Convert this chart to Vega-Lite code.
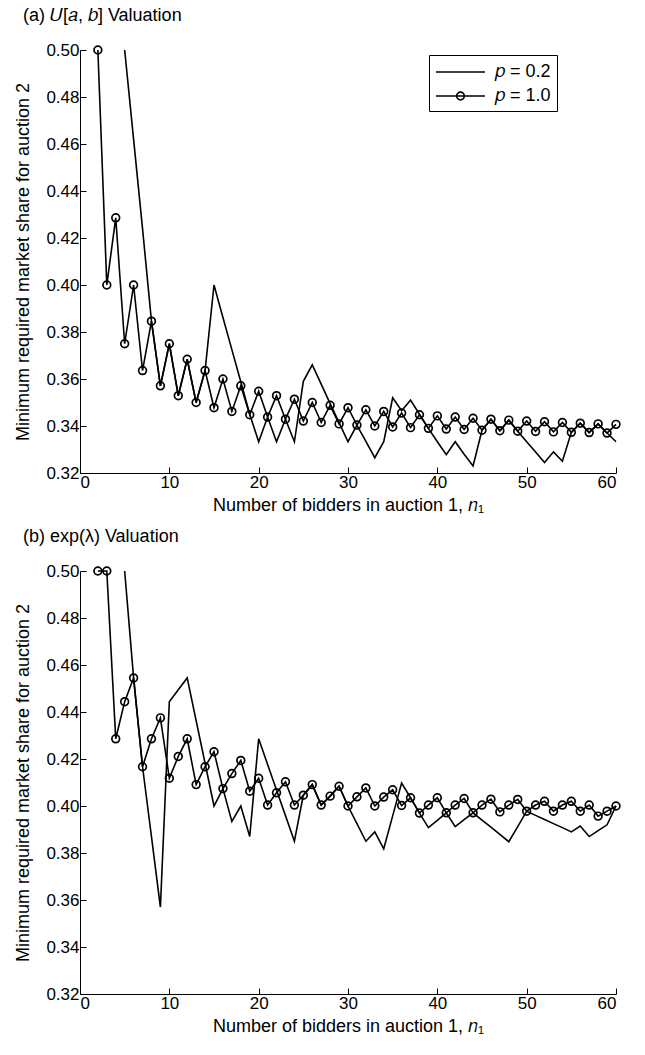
{
  "$schema": "https://vega.github.io/schema/vega-lite/v6.json",
  "background": "white",
  "padding": {"left": 14, "top": 7, "right": 4, "bottom": 3},
  "spacing": 14,
  "config": {
    "font": "Liberation Sans",
    "view": {"stroke": null},
    "axis": {
      "grid": false,
      "domainColor": "black",
      "domainWidth": 1,
      "tickColor": "black",
      "tickWidth": 1,
      "tickSize": -6,
      "labelColor": "black",
      "labelFontSize": 17,
      "labelPadding": 7,
      "titleColor": "black",
      "titleFontSize": 18,
      "titleFontWeight": "normal"
    },
    "title": {"fontSize": 18, "fontWeight": "normal", "color": "black", "anchor": "start", "frame": "bounds", "dx": 8}
  },
  "resolve": {"scale": {"shape": "independent"}, "legend": {"shape": "independent"}},
  "datasets": {
    "a": [
      {"n": 2, "series": "p = 1.0", "share": 0.5},
      {"n": 3, "series": "p = 1.0", "share": 0.4},
      {"n": 4, "series": "p = 1.0", "share": 0.4286},
      {"n": 5, "series": "p = 1.0", "share": 0.375},
      {"n": 6, "series": "p = 1.0", "share": 0.4},
      {"n": 7, "series": "p = 1.0", "share": 0.3636},
      {"n": 8, "series": "p = 1.0", "share": 0.3846},
      {"n": 9, "series": "p = 1.0", "share": 0.3571},
      {"n": 10, "series": "p = 1.0", "share": 0.375},
      {"n": 11, "series": "p = 1.0", "share": 0.3529},
      {"n": 12, "series": "p = 1.0", "share": 0.3684},
      {"n": 13, "series": "p = 1.0", "share": 0.35},
      {"n": 14, "series": "p = 1.0", "share": 0.3636},
      {"n": 15, "series": "p = 1.0", "share": 0.3478},
      {"n": 16, "series": "p = 1.0", "share": 0.36},
      {"n": 17, "series": "p = 1.0", "share": 0.3462},
      {"n": 18, "series": "p = 1.0", "share": 0.3571},
      {"n": 19, "series": "p = 1.0", "share": 0.3448},
      {"n": 20, "series": "p = 1.0", "share": 0.3548},
      {"n": 21, "series": "p = 1.0", "share": 0.3438},
      {"n": 22, "series": "p = 1.0", "share": 0.3529},
      {"n": 23, "series": "p = 1.0", "share": 0.3429},
      {"n": 24, "series": "p = 1.0", "share": 0.3514},
      {"n": 25, "series": "p = 1.0", "share": 0.3421},
      {"n": 26, "series": "p = 1.0", "share": 0.35},
      {"n": 27, "series": "p = 1.0", "share": 0.3415},
      {"n": 28, "series": "p = 1.0", "share": 0.3488},
      {"n": 29, "series": "p = 1.0", "share": 0.3409},
      {"n": 30, "series": "p = 1.0", "share": 0.3478},
      {"n": 31, "series": "p = 1.0", "share": 0.3404},
      {"n": 32, "series": "p = 1.0", "share": 0.3469},
      {"n": 33, "series": "p = 1.0", "share": 0.34},
      {"n": 34, "series": "p = 1.0", "share": 0.3462},
      {"n": 35, "series": "p = 1.0", "share": 0.3396},
      {"n": 36, "series": "p = 1.0", "share": 0.3455},
      {"n": 37, "series": "p = 1.0", "share": 0.3393},
      {"n": 38, "series": "p = 1.0", "share": 0.3448},
      {"n": 39, "series": "p = 1.0", "share": 0.339},
      {"n": 40, "series": "p = 1.0", "share": 0.3443},
      {"n": 41, "series": "p = 1.0", "share": 0.3387},
      {"n": 42, "series": "p = 1.0", "share": 0.3438},
      {"n": 43, "series": "p = 1.0", "share": 0.3385},
      {"n": 44, "series": "p = 1.0", "share": 0.3433},
      {"n": 45, "series": "p = 1.0", "share": 0.3382},
      {"n": 46, "series": "p = 1.0", "share": 0.3429},
      {"n": 47, "series": "p = 1.0", "share": 0.338},
      {"n": 48, "series": "p = 1.0", "share": 0.3425},
      {"n": 49, "series": "p = 1.0", "share": 0.3378},
      {"n": 50, "series": "p = 1.0", "share": 0.3421},
      {"n": 51, "series": "p = 1.0", "share": 0.3377},
      {"n": 52, "series": "p = 1.0", "share": 0.3418},
      {"n": 53, "series": "p = 1.0", "share": 0.3375},
      {"n": 54, "series": "p = 1.0", "share": 0.3415},
      {"n": 55, "series": "p = 1.0", "share": 0.3373},
      {"n": 56, "series": "p = 1.0", "share": 0.3412},
      {"n": 57, "series": "p = 1.0", "share": 0.3372},
      {"n": 58, "series": "p = 1.0", "share": 0.3409},
      {"n": 59, "series": "p = 1.0", "share": 0.337},
      {"n": 60, "series": "p = 1.0", "share": 0.3407},
      {"n": 5, "series": "p = 0.2", "share": 0.5},
      {"n": 6, "series": "p = 0.2", "share": 0.462},
      {"n": 7, "series": "p = 0.2", "share": 0.424},
      {"n": 8, "series": "p = 0.2", "share": 0.3846},
      {"n": 9, "series": "p = 0.2", "share": 0.3571},
      {"n": 10, "series": "p = 0.2", "share": 0.375},
      {"n": 11, "series": "p = 0.2", "share": 0.3529},
      {"n": 12, "series": "p = 0.2", "share": 0.3684},
      {"n": 13, "series": "p = 0.2", "share": 0.35},
      {"n": 14, "series": "p = 0.2", "share": 0.3636},
      {"n": 15, "series": "p = 0.2", "share": 0.4},
      {"n": 16, "series": "p = 0.2", "share": 0.3862},
      {"n": 17, "series": "p = 0.2", "share": 0.3725},
      {"n": 18, "series": "p = 0.2", "share": 0.3588},
      {"n": 19, "series": "p = 0.2", "share": 0.345},
      {"n": 20, "series": "p = 0.2", "share": 0.3333},
      {"n": 21, "series": "p = 0.2", "share": 0.3438},
      {"n": 22, "series": "p = 0.2", "share": 0.3333},
      {"n": 23, "series": "p = 0.2", "share": 0.3429},
      {"n": 24, "series": "p = 0.2", "share": 0.3333},
      {"n": 25, "series": "p = 0.2", "share": 0.359},
      {"n": 26, "series": "p = 0.2", "share": 0.366},
      {"n": 27, "series": "p = 0.2", "share": 0.3578},
      {"n": 28, "series": "p = 0.2", "share": 0.3495},
      {"n": 29, "series": "p = 0.2", "share": 0.3414},
      {"n": 30, "series": "p = 0.2", "share": 0.3333},
      {"n": 31, "series": "p = 0.2", "share": 0.3404},
      {"n": 32, "series": "p = 0.2", "share": 0.3335},
      {"n": 33, "series": "p = 0.2", "share": 0.3265},
      {"n": 34, "series": "p = 0.2", "share": 0.3333},
      {"n": 35, "series": "p = 0.2", "share": 0.352},
      {"n": 36, "series": "p = 0.2", "share": 0.3465},
      {"n": 37, "series": "p = 0.2", "share": 0.351},
      {"n": 38, "series": "p = 0.2", "share": 0.345},
      {"n": 39, "series": "p = 0.2", "share": 0.339},
      {"n": 40, "series": "p = 0.2", "share": 0.3333},
      {"n": 41, "series": "p = 0.2", "share": 0.3278},
      {"n": 42, "series": "p = 0.2", "share": 0.3333},
      {"n": 43, "series": "p = 0.2", "share": 0.328},
      {"n": 44, "series": "p = 0.2", "share": 0.323},
      {"n": 45, "series": "p = 0.2", "share": 0.3382},
      {"n": 46, "series": "p = 0.2", "share": 0.3429},
      {"n": 47, "series": "p = 0.2", "share": 0.338},
      {"n": 48, "series": "p = 0.2", "share": 0.3425},
      {"n": 49, "series": "p = 0.2", "share": 0.3378},
      {"n": 50, "series": "p = 0.2", "share": 0.3333},
      {"n": 51, "series": "p = 0.2", "share": 0.3289},
      {"n": 52, "series": "p = 0.2", "share": 0.3245},
      {"n": 53, "series": "p = 0.2", "share": 0.329},
      {"n": 54, "series": "p = 0.2", "share": 0.325},
      {"n": 55, "series": "p = 0.2", "share": 0.3373},
      {"n": 56, "series": "p = 0.2", "share": 0.3412},
      {"n": 57, "series": "p = 0.2", "share": 0.3372},
      {"n": 58, "series": "p = 0.2", "share": 0.3409},
      {"n": 59, "series": "p = 0.2", "share": 0.337},
      {"n": 60, "series": "p = 0.2", "share": 0.3333}
    ],
    "b": [
      {"n": 2, "series": "p = 1.0", "share": 0.5},
      {"n": 3, "series": "p = 1.0", "share": 0.5},
      {"n": 4, "series": "p = 1.0", "share": 0.4286},
      {"n": 5, "series": "p = 1.0", "share": 0.4444},
      {"n": 6, "series": "p = 1.0", "share": 0.4545},
      {"n": 7, "series": "p = 1.0", "share": 0.4167},
      {"n": 8, "series": "p = 1.0", "share": 0.4286},
      {"n": 9, "series": "p = 1.0", "share": 0.4375},
      {"n": 10, "series": "p = 1.0", "share": 0.4118},
      {"n": 11, "series": "p = 1.0", "share": 0.4211},
      {"n": 12, "series": "p = 1.0", "share": 0.4286},
      {"n": 13, "series": "p = 1.0", "share": 0.4091},
      {"n": 14, "series": "p = 1.0", "share": 0.4167},
      {"n": 15, "series": "p = 1.0", "share": 0.4231},
      {"n": 16, "series": "p = 1.0", "share": 0.4074},
      {"n": 17, "series": "p = 1.0", "share": 0.4138},
      {"n": 18, "series": "p = 1.0", "share": 0.4194},
      {"n": 19, "series": "p = 1.0", "share": 0.4063},
      {"n": 20, "series": "p = 1.0", "share": 0.4118},
      {"n": 21, "series": "p = 1.0", "share": 0.4004},
      {"n": 22, "series": "p = 1.0", "share": 0.4056},
      {"n": 23, "series": "p = 1.0", "share": 0.4103},
      {"n": 24, "series": "p = 1.0", "share": 0.4004},
      {"n": 25, "series": "p = 1.0", "share": 0.4046},
      {"n": 26, "series": "p = 1.0", "share": 0.4091},
      {"n": 27, "series": "p = 1.0", "share": 0.4004},
      {"n": 28, "series": "p = 1.0", "share": 0.4042},
      {"n": 29, "series": "p = 1.0", "share": 0.4084},
      {"n": 30, "series": "p = 1.0", "share": 0.4},
      {"n": 31, "series": "p = 1.0", "share": 0.4039},
      {"n": 32, "series": "p = 1.0", "share": 0.4077},
      {"n": 33, "series": "p = 1.0", "share": 0.4},
      {"n": 34, "series": "p = 1.0", "share": 0.4038},
      {"n": 35, "series": "p = 1.0", "share": 0.4069},
      {"n": 36, "series": "p = 1.0", "share": 0.4002},
      {"n": 37, "series": "p = 1.0", "share": 0.4035},
      {"n": 38, "series": "p = 1.0", "share": 0.397},
      {"n": 39, "series": "p = 1.0", "share": 0.4004},
      {"n": 40, "series": "p = 1.0", "share": 0.4035},
      {"n": 41, "series": "p = 1.0", "share": 0.3971},
      {"n": 42, "series": "p = 1.0", "share": 0.4004},
      {"n": 43, "series": "p = 1.0", "share": 0.4032},
      {"n": 44, "series": "p = 1.0", "share": 0.3971},
      {"n": 45, "series": "p = 1.0", "share": 0.4004},
      {"n": 46, "series": "p = 1.0", "share": 0.4029},
      {"n": 47, "series": "p = 1.0", "share": 0.3975},
      {"n": 48, "series": "p = 1.0", "share": 0.4004},
      {"n": 49, "series": "p = 1.0", "share": 0.4028},
      {"n": 50, "series": "p = 1.0", "share": 0.3978},
      {"n": 51, "series": "p = 1.0", "share": 0.4004},
      {"n": 52, "series": "p = 1.0", "share": 0.402},
      {"n": 53, "series": "p = 1.0", "share": 0.3978},
      {"n": 54, "series": "p = 1.0", "share": 0.4004},
      {"n": 55, "series": "p = 1.0", "share": 0.402},
      {"n": 56, "series": "p = 1.0", "share": 0.3978},
      {"n": 57, "series": "p = 1.0", "share": 0.4004},
      {"n": 58, "series": "p = 1.0", "share": 0.3957},
      {"n": 59, "series": "p = 1.0", "share": 0.3978},
      {"n": 60, "series": "p = 1.0", "share": 0.4},
      {"n": 5, "series": "p = 0.2", "share": 0.5},
      {"n": 6, "series": "p = 0.2", "share": 0.4545},
      {"n": 7, "series": "p = 0.2", "share": 0.4167},
      {"n": 8, "series": "p = 0.2", "share": 0.387},
      {"n": 9, "series": "p = 0.2", "share": 0.357},
      {"n": 10, "series": "p = 0.2", "share": 0.4444},
      {"n": 11, "series": "p = 0.2", "share": 0.4495},
      {"n": 12, "series": "p = 0.2", "share": 0.4545},
      {"n": 13, "series": "p = 0.2", "share": 0.4363},
      {"n": 14, "series": "p = 0.2", "share": 0.4182},
      {"n": 15, "series": "p = 0.2", "share": 0.4},
      {"n": 16, "series": "p = 0.2", "share": 0.4074},
      {"n": 17, "series": "p = 0.2", "share": 0.3934},
      {"n": 18, "series": "p = 0.2", "share": 0.4},
      {"n": 19, "series": "p = 0.2", "share": 0.387},
      {"n": 20, "series": "p = 0.2", "share": 0.4286},
      {"n": 21, "series": "p = 0.2", "share": 0.4177},
      {"n": 22, "series": "p = 0.2", "share": 0.4068},
      {"n": 23, "series": "p = 0.2", "share": 0.3959},
      {"n": 24, "series": "p = 0.2", "share": 0.385},
      {"n": 25, "series": "p = 0.2", "share": 0.4046},
      {"n": 26, "series": "p = 0.2", "share": 0.4091},
      {"n": 27, "series": "p = 0.2", "share": 0.4004},
      {"n": 28, "series": "p = 0.2", "share": 0.4042},
      {"n": 29, "series": "p = 0.2", "share": 0.4084},
      {"n": 30, "series": "p = 0.2", "share": 0.4},
      {"n": 31, "series": "p = 0.2", "share": 0.3925},
      {"n": 32, "series": "p = 0.2", "share": 0.385},
      {"n": 33, "series": "p = 0.2", "share": 0.389},
      {"n": 34, "series": "p = 0.2", "share": 0.3818},
      {"n": 35, "series": "p = 0.2", "share": 0.3958},
      {"n": 36, "series": "p = 0.2", "share": 0.4098},
      {"n": 37, "series": "p = 0.2", "share": 0.4035},
      {"n": 38, "series": "p = 0.2", "share": 0.397},
      {"n": 39, "series": "p = 0.2", "share": 0.3908},
      {"n": 40, "series": "p = 0.2", "share": 0.3939},
      {"n": 41, "series": "p = 0.2", "share": 0.3971},
      {"n": 42, "series": "p = 0.2", "share": 0.3912},
      {"n": 43, "series": "p = 0.2", "share": 0.3942},
      {"n": 44, "series": "p = 0.2", "share": 0.3971},
      {"n": 45, "series": "p = 0.2", "share": 0.394},
      {"n": 46, "series": "p = 0.2", "share": 0.391},
      {"n": 47, "series": "p = 0.2", "share": 0.3879},
      {"n": 48, "series": "p = 0.2", "share": 0.3848},
      {"n": 49, "series": "p = 0.2", "share": 0.3912},
      {"n": 50, "series": "p = 0.2", "share": 0.3978},
      {"n": 51, "series": "p = 0.2", "share": 0.396},
      {"n": 52, "series": "p = 0.2", "share": 0.3943},
      {"n": 53, "series": "p = 0.2", "share": 0.3925},
      {"n": 54, "series": "p = 0.2", "share": 0.3908},
      {"n": 55, "series": "p = 0.2", "share": 0.389},
      {"n": 56, "series": "p = 0.2", "share": 0.3915},
      {"n": 57, "series": "p = 0.2", "share": 0.387},
      {"n": 58, "series": "p = 0.2", "share": 0.3895},
      {"n": 59, "series": "p = 0.2", "share": 0.392},
      {"n": 60, "series": "p = 0.2", "share": 0.4}
    ]
  },
  "vconcat": [
    {
      "title": {"text": "(a) 𝑈[𝑎, 𝑏] Valuation", "offset": 16},
      "width": 536,
      "height": 423,
      "data": {"name": "a"},
      "encoding": {
        "x": {"field": "n", "type": "quantitative", "scale": {"domain": [0, 60], "nice": false}, "axis": {"values": [0, 10, 20, 30, 40, 50, 60], "title": "Number of bidders in auction 1, 𝑛₁", "titlePadding": 6}},
        "y": {"field": "share", "type": "quantitative", "scale": {"domain": [0.32, 0.5], "nice": false, "zero": false}, "axis": {"values": [0.32, 0.34, 0.36, 0.38, 0.4, 0.42, 0.44, 0.46, 0.48, 0.5], "format": ".2f", "title": "Minimum required market share for auction 2", "titlePadding": 13}}
      },
      "layer": [
        {"mark": {"type": "line", "color": "black", "strokeWidth": 1.6}, "encoding": {"detail": {"field": "series"}}},
        {"transform": [{"filter": "datum.series === 'p = 1.0'"}], "mark": {"type": "point", "shape": "circle", "filled": false, "color": "black", "opacity": 1, "size": 60, "strokeWidth": 1.7}},
        {
          "mark": {"type": "point", "filled": false, "opacity": 0},
          "encoding": {
            "shape": {
              "field": "series", "type": "nominal",
              "scale": {"domain": ["p = 0.2", "p = 1.0"], "range": ["M-1,0L3.9,0", "M-1,0L3.9,0M1.07,0A0.38,0.38,0,1,1,1.83,0A0.38,0.38,0,1,1,1.07,0"]},
              "legend": {
                "title": null, "orient": "none", "legendX": 349, "legendY": 5,
                "symbolSize": 400, "symbolStrokeWidth": 1.7, "symbolStrokeColor": "black", "symbolFillColor": "transparent",
                "labelFontSize": 18, "labelColor": "black", "labelOffset": 38, "labelExpr": "replace(datum.label, 'p', '𝑝')",
                "strokeColor": "black", "padding": 6, "rowPadding": 4, "fillColor": "white",
                "encode": {"symbols": {"update": {"opacity": {"value": 1}}}}
              }
            }
          }
        }
      ]
    },
    {
      "title": {"text": "(b) exp(λ) Valuation", "offset": 16},
      "width": 536,
      "height": 423,
      "data": {"name": "b"},
      "encoding": {
        "x": {"field": "n", "type": "quantitative", "scale": {"domain": [0, 60], "nice": false}, "axis": {"values": [0, 10, 20, 30, 40, 50, 60], "title": "Number of bidders in auction 1, 𝑛₁", "titlePadding": 6}},
        "y": {"field": "share", "type": "quantitative", "scale": {"domain": [0.32, 0.5], "nice": false, "zero": false}, "axis": {"values": [0.32, 0.34, 0.36, 0.38, 0.4, 0.42, 0.44, 0.46, 0.48, 0.5], "format": ".2f", "title": "Minimum required market share for auction 2", "titlePadding": 13}}
      },
      "layer": [
        {"mark": {"type": "line", "color": "black", "strokeWidth": 1.6}, "encoding": {"detail": {"field": "series"}}},
        {"transform": [{"filter": "datum.series === 'p = 1.0'"}], "mark": {"type": "point", "shape": "circle", "filled": false, "color": "black", "opacity": 1, "size": 60, "strokeWidth": 1.7}}
      ]
    }
  ]
}
